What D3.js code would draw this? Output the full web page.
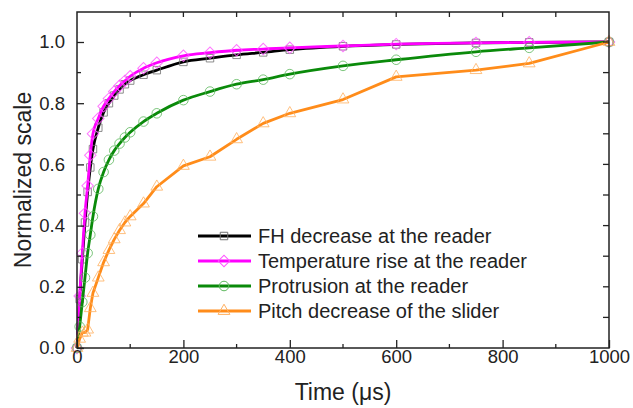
<!DOCTYPE html>
<html><head><meta charset="utf-8">
<script src="https://cdn.jsdelivr.net/npm/d3@7"></script>
<style>body{margin:0;background:#fff}svg{display:block}text{font-family:"Liberation Sans",Arial,sans-serif}</style>
</head><body><svg id="c" width="633" height="408"></svg>
<script>
const timeFH   = [0,5,10,15,20,25,30,40,50,60,70,80,90,100,125,150,200,250,300,350,400,500,600,750,850,1000];
const fhValues = [0,0.16,0.29,0.41,0.51,0.59,0.65,0.72,0.77,0.80,0.825,0.845,0.862,0.874,0.893,0.908,0.935,0.947,0.958,0.966,0.975,0.986,0.992,0.997,0.999,1.0];
const timeTR   = [0,5,10,15,20,25,30,40,50,60,70,80,90,100,125,150,200,250,300,350,400,500,600,750,850,1000];
const trValues = [0,0.17,0.31,0.44,0.53,0.63,0.70,0.75,0.79,0.815,0.838,0.857,0.873,0.888,0.914,0.932,0.955,0.965,0.973,0.977,0.981,0.987,0.993,0.997,0.999,1.0];
const timePR   = [0,5,10,15,20,25,30,40,50,60,70,80,90,100,125,150,200,250,300,350,400,500,600,750,850,1000];
const prValues = [0,0.07,0.15,0.23,0.31,0.37,0.43,0.52,0.575,0.615,0.645,0.668,0.688,0.705,0.74,0.767,0.81,0.838,0.862,0.877,0.895,0.922,0.942,0.968,0.981,1.0];
const timePD   = [0,5,10,15,20,25,30,40,50,60,70,80,90,100,125,150,200,250,300,350,400,500,600,750,850,1000];
const pdValues = [0,0.03,0.05,0.05,0.06,0.13,0.18,0.23,0.28,0.32,0.355,0.385,0.41,0.43,0.472,0.527,0.595,0.625,0.682,0.734,0.767,0.812,0.886,0.908,0.93,1.0];
const seriesNames = ["FH decrease at the reader","Temperature rise at the reader","Protrusion at the reader","Pitch decrease of the slider"];
const xTicks = [0,200,400,600,800,1000];
const yTicks = [0.0,0.2,0.4,0.6,0.8,1.0];

const series = [
  {name:seriesNames[0], t:timeFH, v:fhValues, color:"#000000", mcolor:"#707070", marker:"square", curve:d3.curveMonotoneX},
  {name:seriesNames[1], t:timeTR, v:trValues, color:"#ff00ff", mcolor:"#ff55ff", marker:"diamond", curve:d3.curveMonotoneX},
  {name:seriesNames[2], t:timePR, v:prValues, color:"#0a8a0a", mcolor:"#5cb85c", marker:"circle", curve:d3.curveMonotoneX},
  {name:seriesNames[3], t:timePD, v:pdValues, color:"#ff8c1a", mcolor:"#ffb060", marker:"triangle", curve:d3.curveLinear}
];

const svg = d3.select("#c");
const L=77, R=609, T=12, B=348;
const x = d3.scaleLinear().domain([0,1000]).range([L,R]);
const y = d3.scaleLinear().domain([0,1.1]).range([B,B-1.1*306]);

const plot = svg.append("g");

const symbols = {
  square: d3.symbol().type(d3.symbolSquare).size(56),
  diamond: d3.symbol().type(d3.symbolSquare).size(66),
  circle: d3.symbol().type(d3.symbolCircle).size(72),
  triangle: d3.symbol().type(d3.symbolTriangle).size(60)
};
const rot = m => m==="diamond" ? " rotate(45)" : "";

series.forEach(s=>{
  const pts = s.t.map((t,i)=>[t,s.v[i]]);
  plot.append("path").attr("d", d3.line().x(d=>x(d[0])).y(d=>y(d[1])).curve(s.curve)(pts))
    .attr("fill","none").attr("stroke",s.color).attr("stroke-width",2.8).attr("stroke-linejoin","round");
  plot.selectAll(null).data(pts).enter().append("path")
    .attr("d",symbols[s.marker]())
    .attr("transform",d=>`translate(${x(d[0])},${y(d[1])})${rot(s.marker)}`)
    .attr("fill","none").attr("stroke",s.mcolor).attr("stroke-width",1).attr("stroke-opacity",0.8);
});

// frame
svg.append("rect").attr("x",L).attr("y",T).attr("width",R-L).attr("height",B-T)
  .attr("fill","none").attr("stroke","#222").attr("stroke-width",1.5);

// axes ticks (inward)
const bottom = d3.axisBottom(x).tickValues(xTicks).tickSize(-8).tickPadding(13).tickFormat(d3.format("d"));
const gB = svg.append("g").attr("transform",`translate(0,${B})`).call(bottom);
const left = d3.axisLeft(y).tickValues(yTicks).tickSize(-7).tickPadding(12).tickFormat(d3.format(".1f"));
const gL = svg.append("g").attr("transform",`translate(${L},0)`).call(left);
[gB,gL].forEach(g=>{g.select(".domain").remove(); g.selectAll("line").attr("stroke","#222").attr("stroke-width",1.3);
  g.selectAll("text").attr("font-size",18.5).attr("fill","#222").attr("font-family","Liberation Sans, Arial, sans-serif");});
gB.selectAll("text").attr("dy","0.1em");

// minor ticks
const minorX = d3.range(100,1000,200);
svg.append("g").selectAll("line").data(minorX).enter().append("line")
  .attr("x1",d=>x(d)).attr("x2",d=>x(d)).attr("y1",B).attr("y2",B-4).attr("stroke","#222").attr("stroke-width",1.3);
const minorY = d3.range(1,11,2).map(d=>d/10);
svg.append("g").selectAll("line").data(minorY).enter().append("line")
  .attr("x1",L).attr("x2",L+4).attr("y1",d=>y(d)).attr("y2",d=>y(d)).attr("stroke","#222").attr("stroke-width",1.3);
// top and right ticks
const topT = d3.range(100,1000,100);
svg.append("g").selectAll("line").data(topT).enter().append("line")
  .attr("x1",d=>x(d)).attr("x2",d=>x(d)).attr("y1",T).attr("y2",T+5).attr("stroke","#222").attr("stroke-width",1.3);
const rightT = d3.range(1,11,1).map(d=>d/10);
svg.append("g").selectAll("line").data(rightT).enter().append("line")
  .attr("x1",R).attr("x2",R-6).attr("y1",d=>y(d)).attr("y2",d=>y(d)).attr("stroke","#222").attr("stroke-width",1.3);

// axis titles
svg.append("text").attr("x",(L+R)/2).attr("y",400).attr("text-anchor","middle").attr("font-size",23).attr("fill","#222").text("Time (μs)");
svg.append("text").attr("transform",`translate(31,${(T+B)/2}) rotate(-90)`).attr("text-anchor","middle").attr("font-size",23).attr("fill","#222").text("Normalized scale");

// legend
const lg = svg.append("g");
series.forEach((s,i)=>{
  const yy = 236 + i*25;
  lg.append("line").attr("x1",198).attr("x2",251).attr("y1",yy).attr("y2",yy).attr("stroke",s.color).attr("stroke-width",2.8);
  lg.append("path").attr("d",symbols[s.marker]()).attr("transform",`translate(224,${yy})${rot(s.marker)}`)
    .attr("fill","none").attr("stroke",s.mcolor).attr("stroke-width",1);
  lg.append("text").attr("x",258).attr("y",yy+7).attr("font-size",20).attr("fill","#222").text(s.name);
});
</script></body></html>
